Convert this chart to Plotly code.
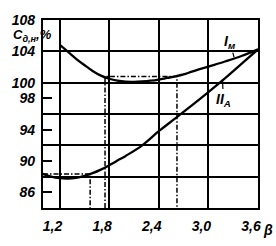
import plotly.graph_objects as go

# Curve I_M (upper)
beta_im = [1.2, 1.3, 1.4, 1.5, 1.6, 1.7, 1.8, 1.9, 2.0, 2.1, 2.2, 2.3, 2.4, 2.5, 2.6, 2.7, 2.8, 3.0, 3.2, 3.4, 3.6]
c_im = [104.85, 103.95, 103.05, 102.25, 101.5, 100.9, 100.5, 100.25, 100.12, 100.1, 100.15, 100.25, 100.4, 100.6, 100.8, 101.05, 101.4, 102.05, 102.7, 103.4, 104.25]

# Curve II_A (lower)
beta_iia = [1.0, 1.1, 1.2, 1.3, 1.4, 1.5, 1.6, 1.7, 1.8, 1.9, 2.0, 2.2, 2.4, 2.6, 2.8, 3.0, 3.2, 3.4, 3.6]
c_iia = [88.35, 88.0, 87.8, 87.75, 87.85, 88.1, 88.45, 88.9, 89.45, 90.05, 90.65, 92.0, 93.8, 95.45, 97.1, 98.8, 100.55, 102.4, 104.25]

# Dash-dot construction lines
upper_ref_beta = [1.75, 1.75, 2.62, 2.62]
upper_ref_c = [84, 100.8, 100.8, 84]
lower_ref_beta = [1.0, 1.57, 1.57]
lower_ref_c = [88.35, 88.35, 84]

x_ticks = [1.2, 1.8, 2.4, 3.0, 3.6]
x_ticktext = ["1,2", "1,8", "2,4", "3,0", "3,6"]
y_ticks = [86, 90, 94, 98, 100, 104, 108]
y_ticktext = ["86", "90", "94", "98", "100", "104", "108"]

font = dict(family="Liberation Sans", size=14, color="black", style="italic", weight="bold")
font_t = dict(family="Liberation Sans", size=13, color="black", style="italic", weight="bold")

fig = go.Figure()
dd = "5px,2px,1.5px,2px"
fig.add_trace(go.Scatter(x=upper_ref_beta, y=upper_ref_c, mode="lines",
                         line=dict(color="black", width=1.5, dash=dd), hoverinfo="skip"))
fig.add_trace(go.Scatter(x=lower_ref_beta, y=lower_ref_c, mode="lines",
                         line=dict(color="black", width=1.5, dash=dd), hoverinfo="skip"))
fig.add_trace(go.Scatter(x=beta_im, y=c_im, mode="lines", line_shape="spline",
                         line=dict(color="black", width=2.3)))
fig.add_trace(go.Scatter(x=beta_iia, y=c_iia, mode="lines", line_shape="spline",
                         line=dict(color="black", width=2.3)))

fig.update_layout(
    width=276, height=246,
    margin=dict(l=36, r=18, t=13, b=28),
    plot_bgcolor="white", paper_bgcolor="white",
    showlegend=False,
    font=font,
)
fig.update_xaxes(range=[1.0, 3.6], tickvals=x_ticks, ticktext=x_ticktext,
                 showgrid=True, gridcolor="black", gridwidth=1.6,
                 showline=True, linecolor="black", linewidth=2.2, mirror=True,
                 ticks="", ticklabelstandoff=4, ticklabelshift=-7, zeroline=False,
                 tickfont=font)
fig.update_yaxes(range=[84, 108], tickvals=y_ticks, ticktext=y_ticktext,
                 showgrid=False,
                 minor=dict(tick0=84, dtick=4, showgrid=True, gridcolor="black", gridwidth=1.6, ticklen=0),
                 showline=True, linecolor="black", linewidth=2.2, mirror=True,
                 ticks="inside", ticklen=9, tickwidth=2, tickcolor="black",
                 ticklabelstandoff=3, zeroline=False, tickfont=font)

fig.add_annotation(xref="paper", yref="paper", x=1.0, y=-0.065, xshift=3,
                   text="β", showarrow=False, xanchor="left", yanchor="top", font=font)
fig.add_annotation(xref="paper", yref="paper", x=0, y=1, xshift=-32, yshift=-15,
                   text="С<sub>д,н</sub>,%", showarrow=False, xanchor="left", yanchor="middle",
                   font=font_t, bgcolor="rgba(255,255,255,0)")
fig.add_annotation(x=3.31, y=103.25, text="I<sub>м</sub>", showarrow=True, arrowhead=0,
                   arrowwidth=1.2, arrowcolor="black", ax=-4, ay=-15, font=font)
fig.add_annotation(x=3.17, y=100.4, text="II<sub>A</sub>", showarrow=True, arrowhead=0,
                   arrowwidth=1.2, arrowcolor="black", ax=1, ay=20, font=font)

fig.write_html("out.html")
